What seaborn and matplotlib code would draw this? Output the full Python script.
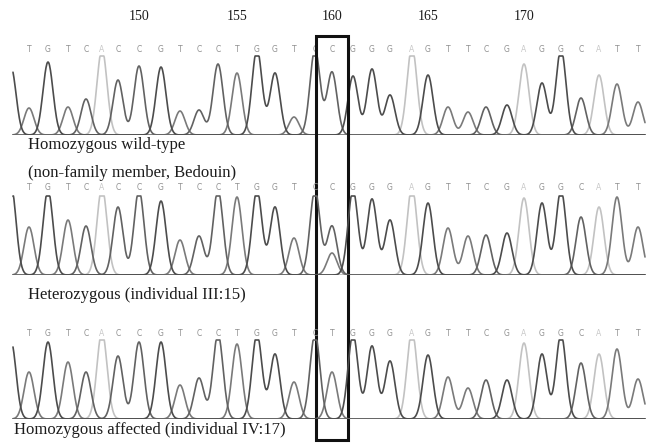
import numpy as np
import pandas as pd
import matplotlib.pyplot as plt
import seaborn as sns
from matplotlib.patches import Rectangle

# base positions and their scan locations (shared by the three traces)
positions = list(range(143, 177))
scan = [11, 29, 48, 68, 86, 102, 118, 139, 161, 180, 199, 218, 237, 257, 275, 294, 315,
        332, 353, 372, 390, 412, 428, 448, 468, 486, 507, 524, 542, 561, 581, 599, 617, 638]

# called bases per trace
seq_wt = "GTGTCACCGTCCTGGTCCGGGAGTTCGAGGCATT"
seq_het = "GTGTCACCGTCCTGGTCCGGGAGTTCGAGGCATT"
seq_aff = "GTGTCACCGTCCTGGTCTGGGAGTTCGAGGCATT"

# peak heights (signal above baseline), values above the cap are drawn flat
h_wt = [68, 27, 73, 28, 36, 86, 55, 69, 68, 24, 25, 71, 62, 86, 62, 18, 86,
        63, 59, 66, 40, 88, 60, 28, 23, 28, 30, 71, 52, 86, 37, 60, 51, 33]
h_het = [90, 48, 85, 55, 49, 88, 68, 85, 74, 35, 39, 85, 78, 85, 68, 37, 85,
         49, 85, 76, 55, 88, 72, 47, 39, 40, 42, 77, 72, 85, 58, 68, 78, 48]
h_aff = [78, 47, 77, 57, 47, 88, 63, 77, 77, 34, 41, 85, 75, 85, 65, 37, 85,
         47, 85, 73, 58, 88, 64, 42, 31, 39, 39, 76, 65, 85, 56, 65, 70, 40]

# second (overlapping) peak in the heterozygous trace
het_extra_pos = 160
het_extra_base = "T"
het_extra_h = 22

labels = ["Homozygous wild-type\n(non-family member, Bedouin)",
          "Heterozygous (individual III:15)",
          "Homozygous affected (individual IV:17)"]
tick_pos = [150, 155, 160, 165, 170]

colors = {"A": "#c2c2c2", "T": "#7a7a7a", "C": "#626262", "G": "#4c4c4c"}
letter_colors = {"A": "#c8c8c8", "T": "#909090", "C": "#909090", "G": "#909090"}
sigma = 5.0
cap = 79


def trace_frame(seq, heights, extra=None):
    x = np.linspace(13, 645, 1400)
    rows = []
    for b in "ATCG":
        y = np.zeros_like(x)
        for s, base, h in zip(scan, seq, heights):
            if base == b:
                y += h * np.exp(-(x - s) ** 2 / (2 * sigma ** 2))
        if extra is not None and extra[0] == b:
            y += extra[2] * np.exp(-(x - extra[1]) ** 2 / (2 * sigma ** 2))
        y = np.minimum(y, cap)
        rows.append(pd.DataFrame({"scan": x, "signal": y, "base": b}))
    return pd.concat(rows, ignore_index=True)


sns.set_style("white")
fig = plt.figure(figsize=(6.51, 4.46), dpi=100)
H = 446.0
baselines = [135, 275, 419]
letter_y = [85, 88, 86]

panels = [
    (seq_wt, h_wt, None),
    (seq_het, h_het, (het_extra_base, scan[positions.index(het_extra_pos)], het_extra_h)),
    (seq_aff, h_aff, None),
]

axes = []
for i, (seq, hts, extra) in enumerate(panels):
    b = baselines[i]
    ax = fig.add_axes([0, (H - b) / H, 1, 80 / H])
    ax.set_xlim(0, 651)
    ax.set_ylim(0, 80)
    ax.axis("off")
    ax.hlines(0, 13, 645, color="#9a9a9a", lw=1.8, zorder=1)
    df = trace_frame(seq, hts, extra)
    sns.lineplot(data=df, x="scan", y="signal", hue="base", hue_order=list("ATCG"),
                 palette=colors, legend=False, estimator=None, sort=False,
                 lw=1.2, ax=ax, zorder=2)
    for s, base in zip(scan[1:], seq[1:]):
        ax.text(s, letter_y[i], base, ha="center", va="center", fontsize=5.5,
                color=letter_colors[base], family="DejaVu Sans", clip_on=False)
    axes.append(ax)

serif = "Liberation Serif"
txt = "#1c1c1c"
ax1, ax2, ax3 = axes
for p in tick_pos:
    ax1.text(scan[positions.index(p)], 118, str(p), ha="center", va="center",
             fontsize=10, family=serif, color=txt, clip_on=False)

ax1.text(28, -10, "Homozygous wild-type", ha="left", va="center", fontsize=12,
         family=serif, color=txt, clip_on=False)
ax1.text(28, -38, "(non-family member, Bedouin)", ha="left", va="center", fontsize=12,
         family=serif, color=txt, clip_on=False)
ax2.text(28, -20, labels[1], ha="left", va="center", fontsize=12,
         family=serif, color=txt, clip_on=False)
ax3.text(14, -11, labels[2], ha="left", va="center", fontsize=12,
         family=serif, color=txt, clip_on=False)

# box round position 160, spanning all three traces
x160 = scan[positions.index(160)]
ax1.add_patch(Rectangle((x160 - 16, -305), 32, 404, fill=False, lw=2.2,
                        ec="#111111", clip_on=False, zorder=5))

fig.savefig("out.png", dpi=100)
